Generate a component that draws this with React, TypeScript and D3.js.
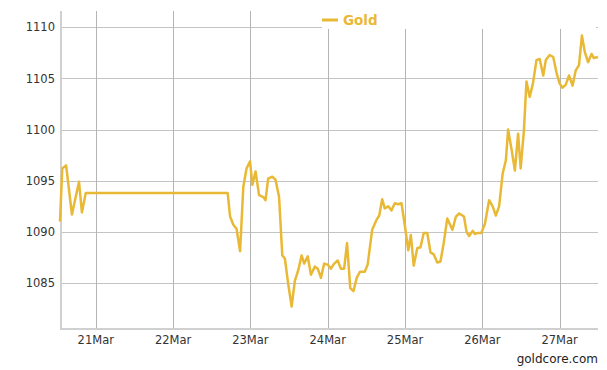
import React from 'react';
import * as d3 from 'd3';

// hours counted from 21 Mar 2015 00:00, prices in USD/oz
const hours = [
  -11.1, -10.4, -9.2, -7.4, -5.2, -4.3, -3.1, 40.95, 41.7, 42.7, 43.7, 44.8,
  45.8, 46.8, 47.9, 48.6, 49.6, 50.7, 52.0, 52.7, 53.5, 54.8, 55.8, 56.9,
  57.9, 58.7, 59.7, 60.8, 61.8, 62.9, 63.9, 64.7, 65.8, 66.8, 68.0, 68.9,
  69.9, 70.9, 72.0, 73.0, 74.0, 75.1, 76.1, 77.1, 78.0, 79.0, 80.0, 81.0,
  82.0, 83.5, 84.4, 85.8, 87.2, 88.0, 88.9, 89.7, 90.8, 91.8, 92.8, 93.9,
  94.9, 96.0, 97.0, 97.8, 98.7, 99.8, 100.8, 101.8, 102.9, 103.9, 104.9, 106.0,
  107.0, 108.0, 109.1, 110.7, 111.8, 112.8, 114.3, 115.1, 115.9, 117.0, 117.7, 118.7,
  119.7, 120.8, 122.1, 123.2, 124.2, 125.2, 126.3, 127.3, 128.0, 129.1, 130.1, 131.1,
  131.9, 132.9, 133.7, 134.7, 135.7, 136.8, 137.8, 138.9, 139.7, 140.9, 142.0, 143.0,
  144.0, 144.9, 145.9, 146.9, 148.0, 149.0, 150.0, 150.9, 151.8, 152.8, 153.9, 154.6,
  155.9
];
const prices = [
  1091.0, 1096.2, 1096.5, 1091.7, 1094.9, 1091.9, 1093.8, 1093.8, 1091.5, 1090.7, 1090.3, 1088.1,
  1094.4, 1096.2, 1096.9, 1094.6, 1095.9, 1093.6, 1093.4, 1093.1, 1095.2, 1095.4, 1095.1, 1093.4,
  1087.7, 1087.4, 1085.0, 1082.7, 1085.2, 1086.3, 1087.7, 1086.9, 1087.6, 1085.8, 1086.6, 1086.4,
  1085.5, 1086.9, 1086.8, 1086.4, 1086.9, 1087.2, 1086.4, 1086.4, 1088.9, 1084.5, 1084.2, 1085.5,
  1086.1, 1086.1, 1086.8, 1090.2, 1091.2, 1091.6, 1093.2, 1092.3, 1092.5, 1092.1, 1092.8, 1092.7,
  1092.8, 1090.5, 1088.2, 1089.7, 1086.7, 1088.4, 1088.5, 1089.9, 1089.9, 1088.0, 1087.8, 1087.0,
  1087.1, 1088.9, 1091.3, 1090.2, 1091.5, 1091.8, 1091.5, 1090.0, 1089.6, 1090.1, 1089.8, 1089.9,
  1089.9, 1090.8, 1093.1, 1092.5, 1091.6, 1092.5, 1095.7, 1097.0, 1100.0, 1098.0, 1096.0, 1099.6,
  1096.2, 1099.9, 1104.7, 1103.2, 1104.5, 1106.8, 1106.9, 1105.3, 1106.8, 1107.3, 1107.1, 1105.6,
  1104.5, 1104.1, 1104.4, 1105.3, 1104.3, 1105.8, 1106.3, 1109.2, 1107.6, 1106.6, 1107.4, 1107.0,
  1107.1
];
const yTicks = [1085, 1090, 1095, 1100, 1105, 1110];
const seriesName = 'Gold';
const credit = 'goldcore.com';

const W = 607, H = 370;
const margin = { left: 60, right: 9, top: 11, bottom: 42 };
const gold = '#e9b935';
const font = '"DejaVu Sans", Verdana, sans-serif';

class App extends React.Component {
  constructor(props) {
    super(props);
    this.myRef = React.createRef();
  }

  componentDidMount() {
    const start = new Date(2015, 2, 21);
    const data = hours.map((h, i) => ({ t: new Date(start.getTime() + h * 3600e3), v: prices[i] }));

    const x = d3.scaleTime()
      .domain(d3.extent(data, d => d.t))
      .range([margin.left, W - margin.right]);
    const y = d3.scaleLinear()
      .domain([1080.6, 1111.6])
      .range([H - margin.bottom, margin.top]);

    const svg = d3.select(this.myRef.current);
    svg.selectAll('*').remove();
    svg.append('rect').attr('width', W).attr('height', H).attr('fill', '#fff');

    const grid = svg.append('g').attr('shape-rendering', 'crispEdges');
    grid.selectAll('.h').data(yTicks).enter().append('line')
      .attr('x1', margin.left).attr('x2', W - margin.right)
      .attr('y1', d => Math.round(y(d)) + 0.5).attr('y2', d => Math.round(y(d)) + 0.5)
      .attr('stroke', '#c4c4c4');
    const days = x.ticks(d3.timeDay.every(1));
    grid.selectAll('.v').data(days).enter().append('line')
      .attr('x1', d => Math.round(x(d)) + 0.5).attr('x2', d => Math.round(x(d)) + 0.5)
      .attr('y1', margin.top).attr('y2', H - margin.bottom)
      .attr('stroke', '#b4b4b4');
    // axis lines
    grid.append('line')
      .attr('x1', margin.left + 0.5).attr('x2', margin.left + 0.5)
      .attr('y1', margin.top).attr('y2', H - margin.bottom + 1)
      .attr('stroke', '#d0d0d0').attr('stroke-width', 2);
    grid.append('line')
      .attr('x1', margin.left).attr('x2', W - margin.right)
      .attr('y1', H - margin.bottom + 0.5).attr('y2', H - margin.bottom + 0.5)
      .attr('stroke', '#d0d0d0').attr('stroke-width', 2);

    svg.append('g').selectAll('text').data(yTicks).enter().append('text')
      .attr('x', margin.left - 5).attr('y', d => y(d)).attr('dy', '0.35em')
      .attr('text-anchor', 'end')
      .attr('font-family', font).attr('font-size', 11.5).attr('fill', '#333')
      .text(d => d);

    const fmt = d3.timeFormat('%d%b');
    svg.append('g').selectAll('text').data(days).enter().append('text')
      .attr('x', d => x(d)).attr('y', H - margin.bottom + 16)
      .attr('text-anchor', 'middle')
      .attr('font-family', font).attr('font-size', 11.5).attr('fill', '#333')
      .text(d => fmt(d));

    const line = d3.line().x(d => x(d.t)).y(d => y(d.v));
    svg.append('path').datum(data)
      .attr('d', line)
      .attr('fill', 'none').attr('stroke', gold)
      .attr('stroke-width', 2.5).attr('stroke-linejoin', 'round');

    // legend sits on a white box over the top of the grid
    const lg = svg.append('g');
    lg.append('rect').attr('x', 322).attr('y', 0).attr('width', 274).attr('height', 29).attr('fill', '#fff');
    lg.append('line').attr('x1', 322).attr('x2', 338).attr('y1', 20).attr('y2', 20)
      .attr('stroke', gold).attr('stroke-width', 3);
    lg.append('text').attr('x', 343).attr('y', 25)
      .attr('font-family', font).attr('font-size', 13.5).attr('font-weight', 'bold')
      .attr('fill', gold).text(seriesName);

    svg.append('text').attr('x', W - 9).attr('y', H - 7)
      .attr('text-anchor', 'end')
      .attr('font-family', font).attr('font-size', 12).attr('fill', '#222')
      .text(credit);
  }

  render() {
    return (
      <svg ref={this.myRef} width={W} height={H}
        style={{ position: 'absolute', left: 0, top: 0 }} />
    );
  }
}

export default App;
